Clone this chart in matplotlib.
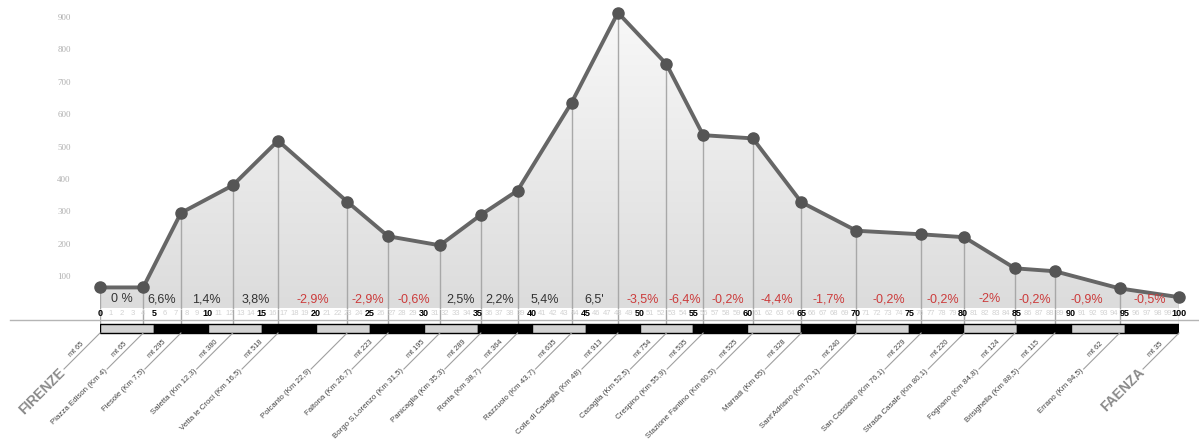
"""Altimetric profile Firenze - Faenza (100 km)."""

import numpy as np
import matplotlib
matplotlib.use("Agg")
import matplotlib.pyplot as plt
from matplotlib.colors import LinearSegmentedColormap
from matplotlib.patches import Polygon

# --- data -----------------------------------------------------------------
stop_names = [
    "FIRENZE", "Piazza Edison", "Fiesole", "Saletta", "Vetta le Croci",
    "Polcanto", "Faltona", "Borgo S.Lorenzo", "Panicaglia", "Ronta",
    "Razzuolo", "Colle di Casaglia", "Casaglia", "Crespino",
    "Stazione Fantino", "Marradi", "Sant'Adriano", "San Cassiano",
    "Strada Casale", "Fognano", "Brisighella", "Errano", "FAENZA",
]
stop_km = [0, 4, 7.5, 12.3, 16.5, 22.9, 26.7, 31.5, 35.3, 38.7, 43.7, 48,
           52.5, 55.9, 60.5, 65, 70.1, 76.1, 80.1, 84.8, 88.5, 94.5, 100]
stop_elev = [65, 65, 295, 380, 518, 330, 223, 195, 289, 364, 635, 913,
             754, 535, 525, 328, 240, 229, 220, 124, 115, 62, 35]
# Polcanto has no altitude written in the original
stop_mt = ["mt 65", "mt 65", "mt 295", "mt 380", "mt 518", "", "mt 223",
           "mt 195", "mt 289", "mt 364", "mt 635", "mt 913", "mt 754",
           "mt 535", "mt 525", "mt 328", "mt 240", "mt 229", "mt 220",
           "mt 124", "mt 115", "mt 62", "mt 35"]
gradients = ["0 %", "6,6%", "1,4%", "3,8%", "-2,9%", "-2,9%", "-0,6%",
             "2,5%", "2,2%", "5,4%", "6,5'", "-3,5%", "-6,4%", "-0,2%",
             "-4,4%", "-1,7%", "-0,2%", "-0,2%", "-2%", "-0,2%", "-0,9%",
             "-0,5%"]
y_ticks = [100, 200, 300, 400, 500, 600, 700, 800, 900]
km_ticks = list(range(0, 101))

# --- layout (figure pixels) -------------------------------------------------
W, H = 1199, 443
X0, X1 = 100, 1179          # km 0 and km 100
Y_ZERO = 308.5              # pixel row of 0 m
PX_PER_M = 0.324
PX_PER_KM = (X1 - X0) / 100

plt.rcParams["font.family"] = ["Liberation Sans", "DejaVu Sans"]
fig = plt.figure(figsize=(W / 100, H / 100), dpi=100)

ax = fig.add_axes([X0 / W, (H - Y_ZERO) / H, (X1 - X0) / W, Y_ZERO / H])
axb = fig.add_axes([X0 / W, 0, (X1 - X0) / W, (H - Y_ZERO) / H])

km = np.array(stop_km)
elev = np.array(stop_elev)
ymax = Y_ZERO / PX_PER_M

# gradient fill under the profile
cmap = LinearSegmentedColormap.from_list("fill", ["#dcdcdc", "#f8f8f8"])
grad = np.linspace(0, 1, 256)[:, None]
im = ax.imshow(grad, extent=[0, 100, 0, elev.max()], origin="lower",
               aspect="auto", cmap=cmap, zorder=1)
verts = [(0, 0)] + list(zip(km, elev)) + [(100, 0)]
poly = Polygon(verts, closed=True, facecolor="none", edgecolor="none")
ax.add_patch(poly)
im.set_clip_path(poly)

ax.vlines(km, 0, elev, color="#a8a8a8", lw=1, zorder=2)
ax.plot(km, elev, color="#666666", lw=2.8, zorder=3, solid_capstyle="round")
ax.plot(km, elev, "o", color="#555555", ms=8, zorder=4, clip_on=False)

# gradient percentages between stops
mids = (km[:-1] + km[1:]) / 2
for x, g in zip(mids, gradients):
    col = "#cc3b3b" if g.startswith("-") else "#333333"
    ax.text(x, (Y_ZERO - 299.5) / PX_PER_M, g, ha="center", va="center",
            fontsize=9, color=col, zorder=5)

ax.set_xlim(0, 100)
ax.set_ylim(0, ymax)
ax.set_xticks([])
ax.set_yticks(y_ticks)
ax.set_yticklabels([str(v) for v in y_ticks], family="Liberation Serif")
ax.tick_params(axis="y", length=0, pad=21, labelsize=6.5, labelcolor="#b0b0b0")
for s in ax.spines.values():
    s.set_visible(False)
ax.patch.set_alpha(0)

# --- bottom strip (y in pixel rows) -----------------------------------------
axb.set_xlim(0, 100)
axb.set_ylim(H, Y_ZERO)
axb.axis("off")

axb.vlines(km, Y_ZERO, 333, color="#a8a8a8", lw=1, zorder=1)
for k in km_ticks:
    if k % 5 == 0:
        axb.text(k, 313, str(k), ha="center", va="center", fontsize=6.5,
                 fontweight="bold", color="black", zorder=3)
    else:
        axb.text(k, 313, str(k), ha="center", va="center", fontsize=5.5,
                 color="#d2d2d2", zorder=3)

axb.plot([(10 - X0) / PX_PER_KM, (W - X0) / PX_PER_KM], [319.5, 319.5],
         color="#b5b5b5", lw=1, clip_on=False)

starts = np.arange(0, 100, 5)
colors = ["#d2d2d2" if i % 2 == 0 else "black" for i in range(len(starts))]
axb.bar(starts, 9, bottom=324, width=5, align="edge", color=colors,
        edgecolor="black", lw=1, zorder=2)

# diagonal stop labels
L = 36
for name, k, mt in zip(stop_names, stop_km, stop_mt):
    axb.plot([k, k - L / PX_PER_KM], [333, 333 + L], color="#a0a0a0",
             lw=0.8, clip_on=False)
    if name.isupper():
        label, fs, fw, col = name, 10, "bold", "#8a8a8a"
    else:
        label = f"{name} (Km {k:g})".replace(".", ",")
        fs, fw, col = 5.7, "normal", "#444444"
    axb.text(k - (L + 1) / PX_PER_KM, 333 + L + 1, label, rotation=45,
             rotation_mode="anchor", ha="right", va="center", fontsize=fs,
             fontweight=fw, color=col, clip_on=False)
    if mt:
        axb.text(k - 24 / PX_PER_KM, 349, mt, rotation=45,
                 rotation_mode="anchor", ha="center", va="center",
                 fontsize=5.3, color="#444444", clip_on=False)

fig.savefig("out.png", dpi=100)
